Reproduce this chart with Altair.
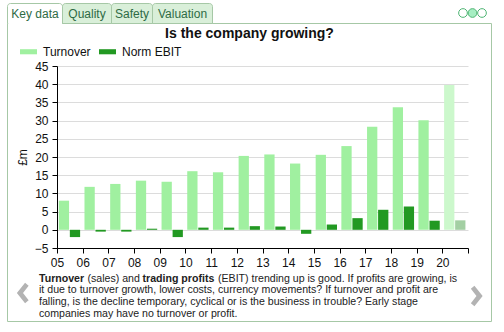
import altair as alt
import pandas as pd

# ---------------- data ----------------
years = [5, 6, 7, 8, 9, 10, 11, 12, 13, 14, 15, 16, 17, 18, 19, 20]
tick_labels = ["05", "06", "07", "08", "09", "10", "11", "12", "13", "14",
               "15", "16", "17", "18", "19", "20"]
turnover = [8.0, 11.8, 12.6, 13.5, 13.2, 16.1, 15.8, 20.3, 20.7, 18.2,
            20.6, 23.0, 28.3, 33.7, 30.1, 39.8]
norm_ebit = [-2.0, -0.5, -0.5, 0.3, -2.0, 0.6, 0.6, 1.0, 0.9, -1.1,
             1.45, 3.2, 5.5, 6.4, 2.5, 2.6]
forecast_years = [20]

series_names = ["Turnover", "Norm EBIT"]
key_domain = ["Turnover", "Norm EBIT", "Turnover (f)", "Norm EBIT (f)"]
key_colors = ["#a0f0a0", "#229922", "#ccf8cc", "#a3cfa3"]

tabs = ["Key data", "Quality", "Safety", "Valuation"]
chart_title = "Is the company growing?"
y_title = "£m"

desc_line1 = [("Turnover", "bold"), ("(sales) and", "normal"),
              ("trading profits", "bold"),
              ("(EBIT) trending up is good. If profits are growing, is", "normal")]
desc_lines = [
    "it due to turnover growth, lower costs, currency movements? If turnover and profit are",
    "falling, is the decline temporary, cyclical or is the business in trouble? Early stage",
    "companies may have no turnover or profit.",
]

rows = []
for i, yr in enumerate(years):
    f = yr in forecast_years
    rows.append(dict(year=yr, series="Turnover", value=turnover[i],
                     key="Turnover (f)" if f else "Turnover"))
    rows.append(dict(year=yr, series="Norm EBIT", value=norm_ebit[i],
                     key="Norm EBIT (f)" if f else "Norm EBIT"))
bars_df = pd.DataFrame(rows)

# ---------------- layout helpers ----------------
W, H = 411, 182
OX, OY = 57, 66          # plot origin on the page
one = pd.DataFrame({"a": [0]})
FONT = "Liberation Sans"


def px(x):
    return x - OX


def py(y):
    return y - OY


def label(text, x, y, size=12, weight="normal", color="#222222", align="left"):
    return alt.Chart(one).mark_text(
        text=text, fontSize=size, fontWeight=weight, color=color,
        align=align, baseline="alphabetic", font=FONT
    ).encode(x=alt.value(px(x)), y=alt.value(py(y)))


def box(x1, y1, x2, y2, fill, stroke, fo=1.0, r=0, sw=1):
    mk = dict(fill=fill, fillOpacity=fo, strokeWidth=sw)
    if stroke:
        mk["stroke"] = stroke
    else:
        mk["strokeWidth"] = 0
    if r:
        mk["cornerRadiusTopLeft"] = r
        mk["cornerRadiusTopRight"] = r
    return alt.Chart(one).mark_rect(**mk).encode(
        x=alt.value(px(x1)), x2=alt.value(px(x2)),
        y=alt.value(py(y1)), y2=alt.value(py(y2)))


# ---------------- bars ----------------
label_expr = "datum.value > 20 ? '' : [" + ",".join("'%s'" % t for t in tick_labels) + "][datum.value - 5]"

bars = alt.Chart(bars_df).transform_calculate(
    x0="datum.year + (datum.series == 'Turnover' ? 0.07 : 0.5)",
    x1="datum.year + (datum.series == 'Turnover' ? 0.47 : 0.9)",
).mark_rect().encode(
    x=alt.X("x0:Q", scale=alt.Scale(domain=[5, 21], nice=False, zero=False),
            axis=alt.Axis(values=list(range(5, 22)), labelExpr=label_expr,
                          grid=False, title=None, domainColor="#000000",
                          tickColor="#000000", tickSize=5, labelFontSize=12,
                          labelColor="#111111", labelPadding=4,
                          labelFlush=False, labelOverlap=False)),
    x2="x1:Q",
    y=alt.Y("value:Q", scale=alt.Scale(domain=[-5, 45], nice=False, zero=False),
            axis=alt.Axis(values=list(range(-5, 50, 5)), grid=True,
                          gridColor="#dcdcdc", domainColor="#000000",
                          tickColor="#000000", tickSize=5, labelFontSize=12,
                          labelColor="#111111", labelPadding=4, labelFlush=False,
                          title=y_title, titleFontSize=12, titleFontWeight="normal",
                          titleColor="#111111", titlePadding=5)),
    y2=alt.datum(0),
    color=alt.Color("key:N",
                    scale=alt.Scale(domain=key_domain, range=key_colors),
                    legend=alt.Legend(title=None, orient="none", legendX=-37,
                                      legendY=-23, direction="horizontal",
                                      values=series_names,
                                      symbolType="M-1,-0.3H1V0.3H-1Z",
                                      symbolSize=289, symbolStrokeWidth=0,
                                      labelFontSize=12, labelColor="#111111",
                                      labelOffset=6, columnPadding=8, padding=0)),
)

# ---------------- decorations ----------------
border = "#a6c8a6"
layers = []
layers.append(box(7.5, 23.5, 491.5, 321.5, "#ffffff", border, fo=0))
tab_x = [7.5, 62.5, 111.5, 152.5, 212.5]
for i, t in enumerate(tabs):
    fill = "#ffffff" if i == 0 else "#d9efd9"
    layers.append(box(tab_x[i], 3.5, tab_x[i + 1], 23.5, fill, border, r=3))
layers.append(box(8.2, 21, 62, 25, "#ffffff", None))
for i, t in enumerate(tabs):
    cx = (tab_x[i] + tab_x[i + 1]) / 2
    layers.append(label(t, cx, 18, size=12, color="#2e6b45", align="center"))

# title
layers.append(label(chart_title, 249.5, 38, size=14, weight="bold",
                    color="#111111", align="center"))

# top-right circles
circ_x = [463, 472.5, 482]
for i, cx in enumerate(circ_x):
    fill = "#a6eec2" if i == 1 else "#ffffff"
    layers.append(alt.Chart(one).mark_point(
        shape="circle", filled=True, fill=fill, stroke="#4fb574",
        strokeWidth=1, size=76, opacity=1
    ).encode(x=alt.value(px(cx)), y=alt.value(py(13))))

# arrows
left_path = "M0.25,-1L-0.55,0L0.25,1L0.6,0.7L0.05,0L0.6,-0.7Z"
right_path = "M-0.25,-1L0.55,0L-0.25,1L-0.6,0.7L-0.05,0L-0.6,-0.7Z"
layers.append(alt.Chart(one).mark_point(shape=left_path, filled=True,
              color="#b3b3b3", size=420, opacity=1).encode(
    x=alt.value(px(22.5)), y=alt.value(py(293))))
layers.append(alt.Chart(one).mark_point(shape=right_path, filled=True,
              color="#b3b3b3", size=420, opacity=1).encode(
    x=alt.value(px(477)), y=alt.value(py(296))))

# description text
fs = 10.6
seg_x = [39, 87.5, 142.5, 218]
for (t, w), sx in zip(desc_line1, seg_x):
    layers.append(label(t, sx, 281.5, size=fs, weight=w, color="#222222"))
for j, line in enumerate(desc_lines):
    layers.append(label(line, 39, 293.2 + 11.7 * j, size=fs, color="#222222"))

chart = alt.layer(*layers, bars).properties(
    width=W, height=H,
    autosize=alt.AutoSizeParams(type="none"),
    padding={"left": OX, "top": OY, "right": 504 - OX - W, "bottom": 332 - OY - H},
).configure(font=FONT, background="#ffffff").configure_view(stroke=None)

chart.save("out.html", embed_options={"renderer": "svg", "actions": False})
